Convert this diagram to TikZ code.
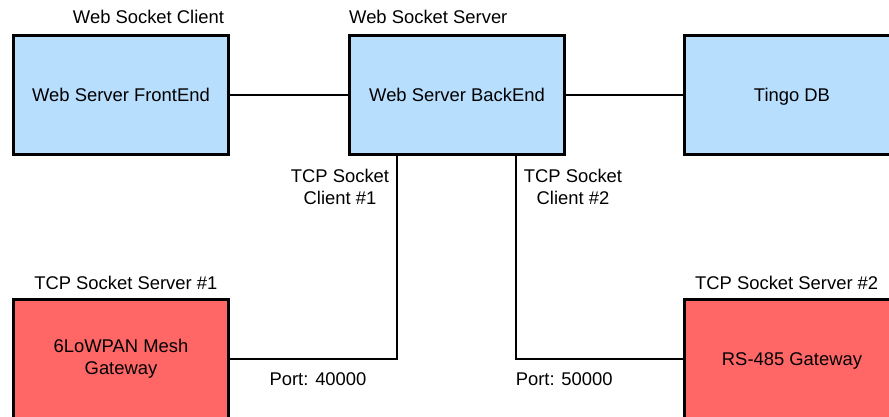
\documentclass[tikz,border=0pt]{standalone}
\usepackage{fontspec}
\setmainfont{Liberation Sans}
\definecolor{boxblue}{HTML}{B8DEFE}
\definecolor{boxred}{HTML}{FF6666}
\begin{document}
\begin{tikzpicture}[x=1pt,y=-1pt,
  every node/.style={font=\fontsize{18.4}{22}\selectfont, inner sep=0pt},
  box/.style={draw=black, line width=3pt, minimum width=215pt, minimum height=119pt, align=center},
  bluebox/.style={box, fill=boxblue},
  redbox/.style={box, fill=boxred},
  flat/.style={text depth=0pt},
  lbl/.style={align=center},
  wire/.style={line width=2pt, black}]
\useasboundingbox (0,0) rectangle (889,417);
\clip (0,0) rectangle (889,417);
\fill[white] (0,0) rectangle (889,417);
\node[bluebox] (fe) at (121,95) {Web Server FrontEnd};
\node[bluebox] (be) at (457,95) {Web Server BackEnd};
\node[bluebox, flat] (db) at (792,95) {Tingo DB};
\node[redbox] (lo) at (121,359) {6LoWPAN Mesh\\Gateway};
\node[redbox, flat] (rs) at (792,359) {RS-485 Gateway};
\draw[wire] (fe.east) -- (be.west);
\draw[wire] (be.east) -- (db.west);
\draw[wire] ([xshift=-60pt]be.south) |- (lo.east);
\draw[wire] ([xshift=59pt]be.south) |- (rs.west);
\node[anchor=base] (lwsc) at (148.5,24) {Web Socket Client};
\node[anchor=base] (lwss) at (428.3,24) {Web Socket Server};
\node[lbl] (ltc1) at (340,187) {TCP Socket\\Client \#1};
\node[lbl] (ltc2) at (573,187) {TCP Socket\\Client \#2};
\node[anchor=base] (lts1) at (125.8,289) {TCP Socket Server \#1};
\node[anchor=base] (lts2) at (786.7,289) {TCP Socket Server \#2};
\node[anchor=base] (lp1) at (318,385) {Port: 40000};
\node[anchor=base] (lp2) at (564.2,385) {Port: 50000};
\end{tikzpicture}
\end{document}
